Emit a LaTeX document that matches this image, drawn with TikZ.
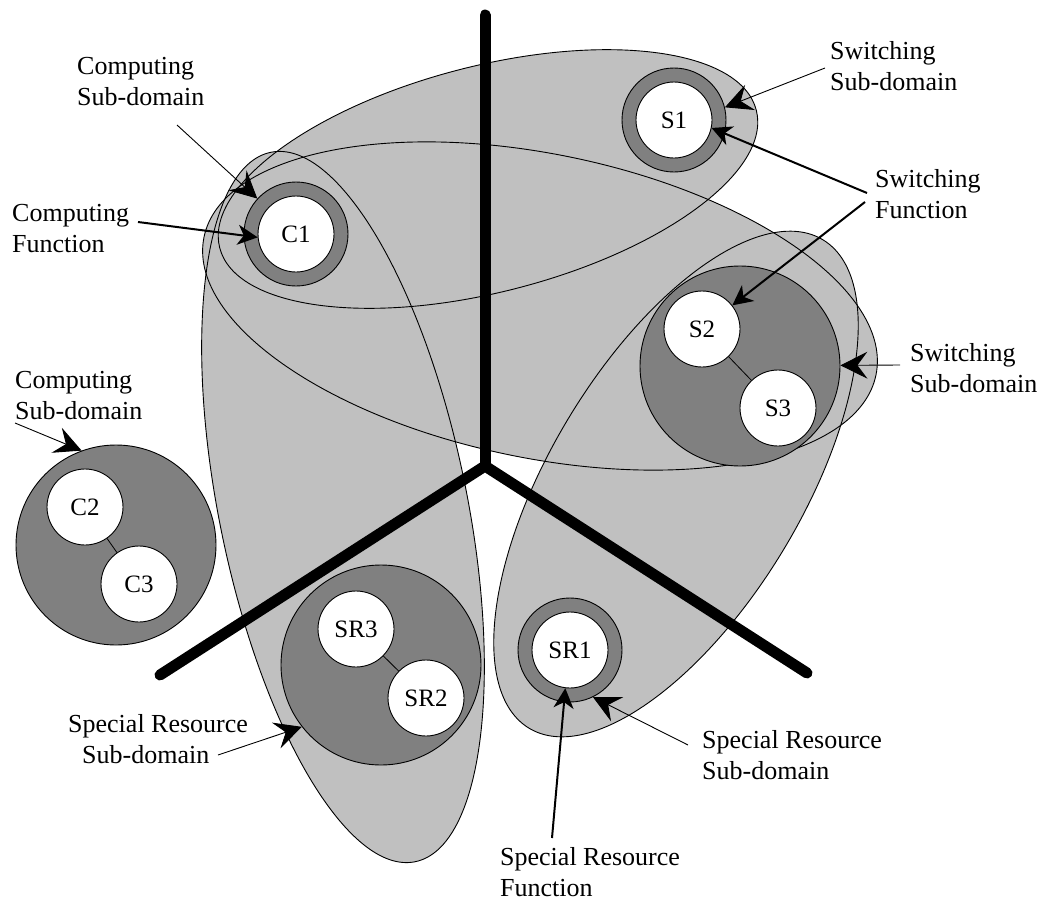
\documentclass[tikz,border=0pt]{standalone}
\usepackage{fontspec}
\setmainfont{Liberation Serif}
\usetikzlibrary{arrows.meta}
\definecolor{regiongray}{HTML}{C0C0C0}
\definecolor{domaingray}{HTML}{808080}
% the four overlapping domains, as rotated ellipses
\newcommand\RegionCompSwitchTop{(488,179) ellipse [x radius=277pt, y radius=113pt, rotate=14.4]}
\newcommand\RegionCompSwitchWide{(540,306) ellipse [x radius=343pt, y radius=152pt, rotate=-11.6]}
\newcommand\RegionCompResource{(343,507) ellipse [x radius=124pt, y radius=362pt, rotate=11.5]}
\newcommand\RegionResourceSwitch{(676,484) ellipse [x radius=285pt, y radius=126pt, rotate=59]}
\begin{document}
\begin{tikzpicture}[x=1pt,y=-1pt,
  region/.style={fill=regiongray},
  rim/.style={draw=black,line width=0.9pt},
  subdomain/.style={circle,draw=black,fill=domaingray,line width=0.9pt,inner sep=0pt},
  fn/.style={circle,draw=black,fill=white,line width=0.9pt,inner sep=0pt,minimum size=76pt,font=\fontsize{25}{30}\selectfont},
  lbl/.style={inner sep=0pt,font=\fontsize{26}{31}\selectfont},
  link/.style={line width=0.8pt},
  subarrow/.style={line width=0.9pt,-{Stealth[length=27pt,width=27pt,inset=10pt]}},
  fnarrow/.style={line width=2pt,-{Stealth[length=20pt,width=20pt,inset=6pt]}},
  divider/.style={line width=11pt,line cap=round,line join=miter}
]
\useasboundingbox (0,0) rectangle (1045,900);

% domain regions: fills first, then every outline on top
\fill[region] \RegionCompSwitchTop;
\fill[region] \RegionCompSwitchWide;
\fill[region] \RegionCompResource;
\fill[region] \RegionResourceSwitch;
\draw[rim] \RegionCompSwitchTop;
\draw[rim] \RegionCompSwitchWide;
\draw[rim] \RegionCompResource;
\draw[rim] \RegionResourceSwitch;

% sub-domains and functions
\node[subdomain,minimum size=104pt] (C1d) at (296,234) {};
\node[fn] (C1) at (296,234) {C1};
\node[subdomain,minimum size=104pt] (S1d) at (674,120) {};
\node[fn] (S1) at (674,120) {S1};
\node[subdomain,minimum size=200pt] (S23) at (740,366) {};
\node[fn] (S2) at (702,329) {S2};
\node[fn] (S3) at (778,408) {S3};
\node[subdomain,minimum size=200pt] (C23) at (116,545) {};
\node[fn] (C2) at (85,507) {C2};
\node[fn] (C3) at (139,584) {C3};
\node[subdomain,minimum size=200pt] (SR23) at (381,665) {};
\node[fn] (SR3) at (356,629) {SR3};
\node[fn] (SR2) at (426,698) {SR2};
\node[subdomain,minimum size=104pt] (SR1d) at (570,650) {};
\node[fn] (SR1) at (570,650) {SR1};

\draw[link] (C2) -- (C3);
\draw[link] (S2) -- (S3);
\draw[link] (SR3) -- (SR2);

% the three-way divider
\coordinate (hub) at (485,466);
\coordinate (armN) at (485,15);
\coordinate (armW) at (160,675);
\coordinate (armE) at (807,673);
\draw[divider] (armW) -- (hub) -- (armE);
\draw[divider] (armN) -- (hub);

% labels
\node[lbl,align=left,anchor=west] (tCSD) at (77,82) {Computing\\Sub-domain};
\node[lbl,align=left,anchor=west] (tCF) at (12,229) {Computing\\Function};
\node[lbl,align=left,anchor=west] (tSSD) at (830,66) {Switching\\Sub-domain};
\node[lbl,align=left,anchor=west] (tSF) at (875,194) {Switching\\Function};
\node[lbl,align=left,anchor=west] (tSSD2) at (910,368) {Switching\\Sub-domain};
\node[lbl,align=left,anchor=west] (tCSD2) at (15,396) {Computing\\Sub-domain};
\node[lbl,align=left,anchor=west] (tRSD) at (68,739) {Special Resource\\\hspace*{14pt}Sub-domain};
\node[lbl,align=left,anchor=west] (tRSD2) at (702,755) {Special Resource\\Sub-domain};
\node[lbl,align=left,anchor=west] (tRF) at (500,872) {Special Resource\\Function};

% pointers from labels
\coordinate (pCSD) at (177,125);
\coordinate (pCF) at (138,222);
\coordinate (pSSD) at (825,68);
\coordinate (pSF1) at (867,193);
\coordinate (pSF2) at (865,202);
\coordinate (pSSD2) at (900,365);
\coordinate (pCSD2) at (15,423);
\coordinate (pRSD) at (218,755);
\coordinate (pRSD2) at (688,745);
\coordinate (pRF) at (552,838);
\draw[subarrow] (pCSD) -- (C1d);
\draw[fnarrow] (pCF) -- (C1.185);
\draw[subarrow] (pSSD) -- (S1d.14);
\draw[fnarrow] (pSF1) -- (S1.-12);
\draw[fnarrow] (pSF2) -- (S2);
\draw[subarrow] (pSSD2) -- (S23);
\draw[subarrow] (pCSD2) -- (C23.110);
\draw[subarrow] (pRSD) -- (SR23.218);
\draw[subarrow] (pRSD2) -- (SR1d.-64);
\draw[fnarrow] (pRF) -- (SR1.-97);
\end{tikzpicture}
\end{document}
